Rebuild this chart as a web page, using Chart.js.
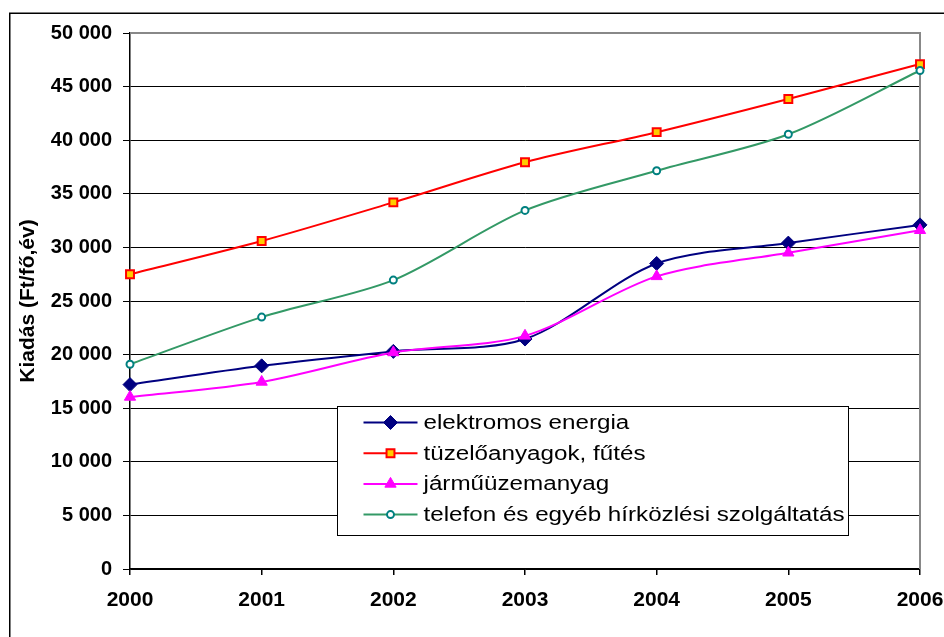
<!DOCTYPE html>
<html><head><meta charset="utf-8">
<script src="https://cdn.jsdelivr.net/npm/chart.js@4"></script>
<style>html,body{margin:0;padding:0;background:#fff}canvas{display:block}</style>
</head><body>
<canvas id="c" width="944" height="637"></canvas>
<script>
const categories = ['2000', '2001', '2002', '2003', '2004', '2005', '2006'];
const seriesNames = ['elektromos energia', 'tüzelőanyagok, fűtés', 'járműüzemanyag', 'telefon és egyéb hírközlési szolgáltatás'];
const elektromos = [17200, 18950, 20300, 21450, 28500, 30400, 32100];
const tuzeloanyag = [27500, 30600, 34200, 37950, 40750, 43850, 47100];
const jarmu = [16050, 17450, 20200, 21750, 27300, 29500, 31600];
const telefon = [19100, 23500, 26950, 33450, 37150, 40550, 46500];
const yTicks = [0, 5000, 10000, 15000, 20000, 25000, 30000, 35000, 40000, 45000, 50000];
const yTitle = 'Kiadás (Ft/fő,év)';

const FONT = "'Liberation Sans', Arial, sans-serif";
function fmt(v) { return String(v).replace(/\B(?=(\d{3})+(?!\d))/g, ' '); }

const framePlugin = {
  id: 'frame',
  beforeDraw(chart) {
    const ctx = chart.ctx;
    ctx.save();
    ctx.strokeStyle = '#000';
    ctx.lineWidth = 1.5;
    ctx.beginPath();
    ctx.moveTo(9.75, chart.height);
    ctx.lineTo(9.75, 13.25);
    ctx.lineTo(chart.width, 13.25);
    ctx.stroke();
    ctx.restore();
  },
  beforeDatasetsDraw(chart) {
    const ctx = chart.ctx;
    const a = chart.chartArea;
    ctx.save();
    ctx.strokeStyle = '#888';
    ctx.lineWidth = 2;
    ctx.beginPath();
    ctx.moveTo(a.left, a.top);
    ctx.lineTo(a.right, a.top);
    ctx.lineTo(a.right, a.bottom);
    ctx.stroke();
    ctx.restore();
  }
};

const legendPlugin = {
  id: 'boxLegend',
  afterDatasetsDraw(chart) {
    const ctx = chart.ctx;
    const a = chart.chartArea;
    const bx = a.left + 207.5, by = a.top + 373.5, bw = 511, bh = 129;
    ctx.save();
    ctx.fillStyle = '#fff';
    ctx.fillRect(bx, by, bw, bh);
    ctx.strokeStyle = '#000';
    ctx.lineWidth = 1;
    ctx.strokeRect(bx, by, bw, bh);
    chart.data.datasets.forEach((ds, i) => {
      const y = by + 16 + i * 30.7;
      const x0 = bx + 26, x1 = bx + 80;
      ctx.strokeStyle = ds.borderColor;
      ctx.lineWidth = 2;
      ctx.beginPath();
      ctx.moveTo(x0, y);
      ctx.lineTo(x1, y);
      ctx.stroke();
      ctx.fillStyle = ds.pointBackgroundColor;
      ctx.strokeStyle = ds.pointBorderColor;
      ctx.lineWidth = ds.pointBorderWidth;
      Chart.helpers.drawPoint(ctx, {pointStyle: ds.pointStyle, radius: ds.pointRadius, borderWidth: ds.pointBorderWidth, rotation: 0}, (x0 + x1) / 2, y);
      ctx.save();
      ctx.translate(bx + 86, y + 1);
      ctx.scale(1.21, 1);
      ctx.fillStyle = '#000';
      ctx.font = '20px ' + FONT;
      ctx.textBaseline = 'middle';
      ctx.textAlign = 'left';
      ctx.fillText(seriesNames[i], 0, 0);
      ctx.restore();
    });
    ctx.restore();
  }
};

const datasets = [
  {label: seriesNames[0], data: elektromos, borderColor: '#000080', pointStyle: 'rectRot', pointRadius: 7, pointBorderWidth: 1, pointBackgroundColor: '#000080', pointBorderColor: '#000080', order: 4},
  {label: seriesNames[1], data: tuzeloanyag, borderColor: '#FF0000', pointStyle: 'rect', pointRadius: 5.6, pointBorderWidth: 2, pointBackgroundColor: '#FFCC00', pointBorderColor: '#FF0000', order: 3},
  {label: seriesNames[2], data: jarmu, borderColor: '#FF00FF', pointStyle: 'triangle', pointRadius: 6.5, pointBorderWidth: 1, pointBackgroundColor: '#FF00FF', pointBorderColor: '#FF00FF', order: 2},
  {label: seriesNames[3], data: telefon, borderColor: '#339966', pointStyle: 'circle', pointRadius: 3.5, pointBorderWidth: 2, pointBackgroundColor: '#FFFFFF', pointBorderColor: '#008080', order: 1}
].map(d => Object.assign({borderWidth: 2, tension: 0.3, clip: false, pointHoverRadius: d.pointRadius, fill: false, backgroundColor: d.pointBackgroundColor}, d));

new Chart(document.getElementById('c'), {
  type: 'line',
  data: {labels: categories, datasets},
  plugins: [framePlugin, legendPlugin],
  options: {
    responsive: false,
    animation: false,
    devicePixelRatio: 1,
    layout: {padding: {top: 33, right: 24, left: 0, bottom: 0}},
    plugins: {legend: {display: false}, tooltip: {enabled: false}},
    scales: {
      x: {
        type: 'category',
        offset: false,
        grid: {drawOnChartArea: false, tickLength: 6, tickColor: '#000', lineWidth: 1.5},
        border: {color: '#000', width: 1.5},
        ticks: {font: {family: FONT, size: 21, weight: 'bold'}, color: '#000', padding: 13, maxRotation: 0, autoSkip: false},
        afterFit(s) { s.height = 68; s.paddingLeft = 0; s.paddingRight = 0; }
      },
      y: {
        min: 0, max: 50000,
        afterBuildTicks(s) { s.ticks = yTicks.map(v => ({value: v})); },
        ticks: {callback: v => fmt(v), font: {family: FONT, size: 20, weight: 'bold'}, color: '#000', padding: 11},
        grid: {color: c => (c.tick && c.tick.value === 50000) ? 'rgba(0,0,0,0)' : '#000', lineWidth: 1, tickLength: 7, tickColor: '#000'},
        border: {color: '#000', width: 1.5},
        title: {display: true, text: yTitle, font: {family: FONT, size: 21, weight: 'bold'}, color: '#000', padding: {top: 16, bottom: 0}},
        afterFit(s) { s.width = 130; }
      }
    }
  }
});
</script>
</body></html>
